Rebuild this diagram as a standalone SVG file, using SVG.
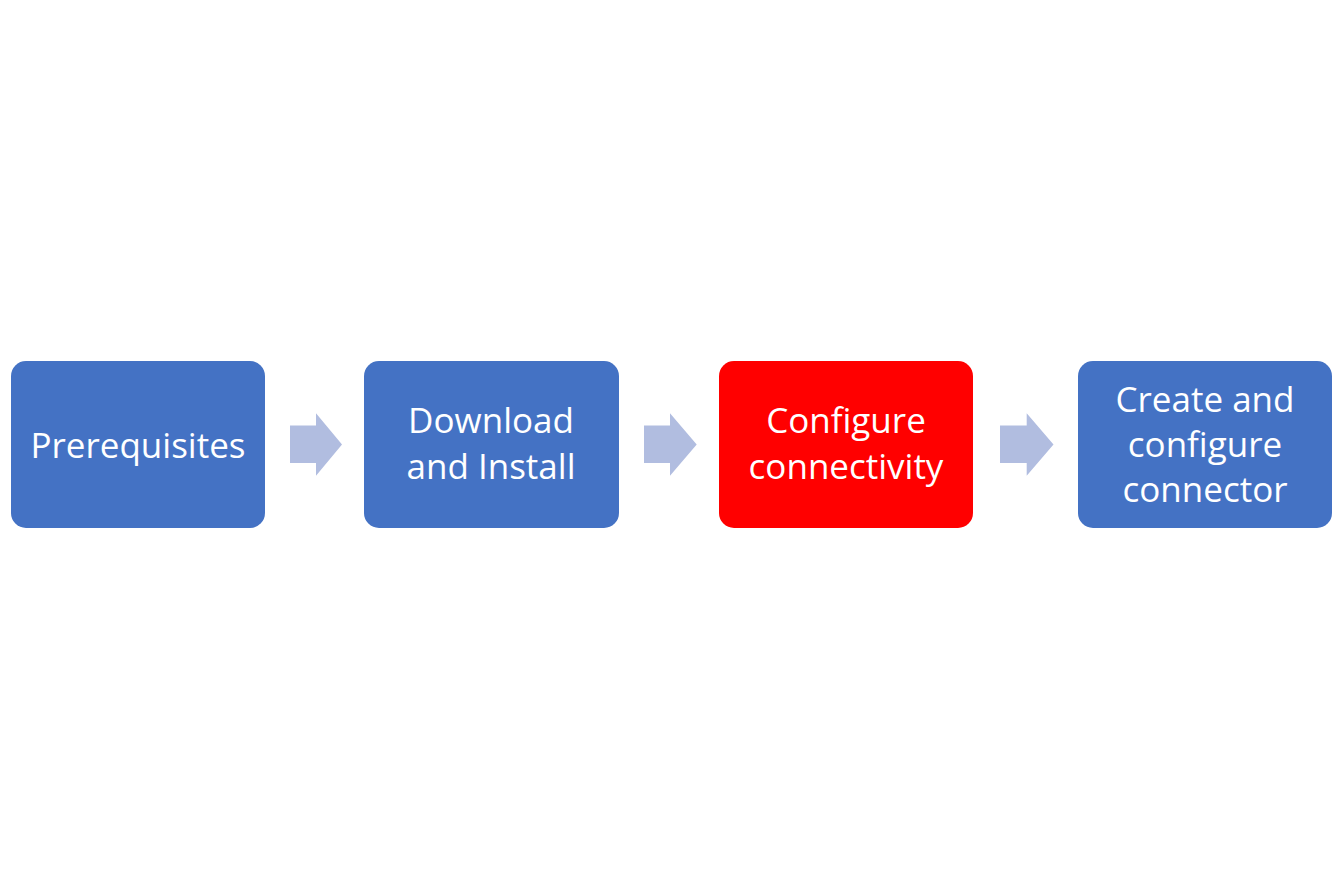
<svg xmlns="http://www.w3.org/2000/svg" width="1334" height="889" viewBox="0 0 1334 889">
<defs>
<style>
.box{fill:#4472C4;}
.hi{fill:#FF0000;}
.arr{fill:#B1BDE0;}
.t{font-family:"Open Sans","Noto Sans","Liberation Sans",sans-serif;font-size:35px;fill:#FFFFFF;text-anchor:middle;}
</style>
</defs>
<rect width="1334" height="889" fill="#FFFFFF"/>
<g id="connectors">
<polygon class="arr" points="290,425.5 316,425.5 316,413.3 342,444.5 316,475.7 316,463 290,463"/>
<polygon class="arr" points="644,425.5 670,425.5 670,413.3 696.7,444.5 670,475.7 670,463 644,463"/>
<polygon class="arr" points="1000,425.5 1026.7,425.5 1026.7,413.3 1053.5,444.5 1026.7,475.7 1026.7,463 1000,463"/>
</g>
<g id="node-prerequisites">
<rect class="box" x="11" y="361" width="254" height="167" rx="15"/>
<text class="t" x="138" y="458">Prerequisites</text>
</g>
<g id="node-download">
<rect class="box" x="364" y="361" width="255" height="167" rx="15"/>
<text class="t" x="491" y="432.5">Download</text>
<text class="t" x="491" y="478.5">and Install</text>
</g>
<g id="node-connectivity">
<rect class="hi" x="719" y="361" width="254" height="167" rx="15"/>
<text class="t" x="846" y="432.5">Configure</text>
<text class="t" x="846" y="478.5">connectivity</text>
</g>
<g id="node-connector">
<rect class="box" x="1078" y="361" width="254" height="167" rx="15"/>
<text class="t" x="1205" y="412">Create and</text>
<text class="t" x="1205" y="457">configure</text>
<text class="t" x="1205" y="502">connector</text>
</g>
</svg>
